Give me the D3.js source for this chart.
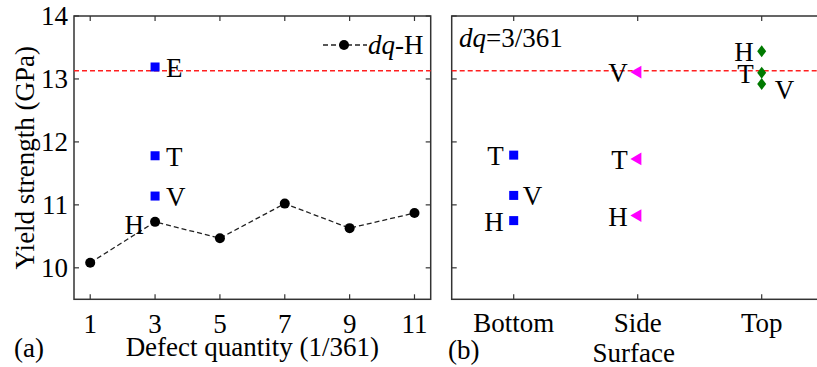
<!DOCTYPE html>
<html>
<head>
<meta charset="utf-8">
<script src="https://cdnjs.cloudflare.com/ajax/libs/d3/7.8.5/d3.min.js"></script>
<style>
  body { margin: 0; background: #fff; }
</style>
</head>
<body>
<div id="chart"></div>
<script>
// panel (a): yield strength vs defect quantity (hydrogen-like defects)
var dqTicks = [1, 3, 5, 7, 9, 11];
var dqH = [10.08, 10.73, 10.47, 11.02, 10.63, 10.87];
// other defect types at dq = 3
var otherTypes = ["E", "T", "V"];
var otherVals = [13.19, 11.78, 11.14];
var refLine = 13.13;
var yTicks = [10, 11, 12, 13, 14];

// panel (b): dq = 3/361, by surface position
var surfaces = ["Bottom", "Side", "Top"];
var bottomTypes = ["T", "V", "H"];
var bottomVals = [11.79, 11.15, 10.75];
var sideTypes = ["V", "T", "H"];
var sideVals = [13.11, 11.73, 10.83];
var topTypes = ["H", "T", "V"];
var topVals = [13.44, 13.10, 12.92];
var bottomSide = ["left", "right", "left"];
var sideSide = ["left", "left", "left"];
var topSide = ["left", "left", "below"];

var W = 817, H = 367;
var svg = d3.select("#chart").append("svg").attr("width", W).attr("height", H)
  .attr("font-family", "'Liberation Serif', Tinos, 'Times New Roman', 'DejaVu Serif', serif");

var y = d3.scaleLinear().domain([9.5, 14]).range([299.3, 16]);
var xa = d3.scaleLinear().domain([0.5, 11.5]).range([74, 430.7]);
var xb = d3.scaleLinear().domain([0.5, 3.5]).range([451.7, 823.7]);

var fs = 27, tickLen = 5, axisCol = "#333";

function box(x) {
  var r = x.range(), d = y.range();
  svg.append("rect")
    .attr("x", r[0]).attr("y", d[1])
    .attr("width", r[1] - r[0]).attr("height", d[0] - d[1])
    .attr("fill", "none").attr("stroke", axisCol).attr("stroke-width", 1.5);
}

// ---------- panel (a) ----------
box(xa);
var ga = svg.append("g");
yTicks.forEach(function(t) {
  ga.append("line").attr("x1", xa.range()[0]).attr("x2", xa.range()[0] + tickLen)
    .attr("y1", y(t)).attr("y2", y(t)).attr("stroke", axisCol).attr("stroke-width", 1.2);
  ga.append("line").attr("x1", xa.range()[1]).attr("x2", xa.range()[1] - tickLen)
    .attr("y1", y(t)).attr("y2", y(t)).attr("stroke", axisCol).attr("stroke-width", 1.2);
  ga.append("text").attr("x", xa.range()[0] - 6).attr("y", y(t) + 9)
    .attr("text-anchor", "end").attr("font-size", fs).text(t);
});
dqTicks.forEach(function(t) {
  ga.append("line").attr("x1", xa(t)).attr("x2", xa(t))
    .attr("y1", y.range()[0]).attr("y2", y.range()[0] - tickLen).attr("stroke", axisCol).attr("stroke-width", 1.2);
  ga.append("line").attr("x1", xa(t)).attr("x2", xa(t))
    .attr("y1", y.range()[1]).attr("y2", y.range()[1] + tickLen).attr("stroke", axisCol).attr("stroke-width", 1.2);
  ga.append("text").attr("x", xa(t)).attr("y", 333)
    .attr("text-anchor", "middle").attr("font-size", fs).text(t);
});

// reference line
ga.append("line").attr("x1", xa.range()[0]).attr("x2", xa.range()[1])
  .attr("y1", y(refLine)).attr("y2", y(refLine))
  .attr("stroke", "#ff2020").attr("stroke-width", 1.3).attr("stroke-dasharray", "5,3");

// dq-H line
var line = d3.line().x(function(d, i) { return xa(dqTicks[i]); }).y(function(d) { return y(d); });
ga.append("path").datum(dqH).attr("d", line)
  .attr("fill", "none").attr("stroke", "#222").attr("stroke-width", 1.3).attr("stroke-dasharray", "5,3");
ga.selectAll("circle.h").data(dqH).enter().append("circle")
  .attr("cx", function(d, i) { return xa(dqTicks[i]); })
  .attr("cy", function(d) { return y(d); })
  .attr("r", 5).attr("fill", "#000");
ga.append("text").attr("x", xa(3) - 11).attr("y", y(dqH[1]) + 12)
  .attr("text-anchor", "end").attr("font-size", fs).text("H");

// other types at dq=3
var sq = 9;
otherVals.forEach(function(v, i) {
  ga.append("rect").attr("x", xa(3) - sq / 2).attr("y", y(v) - sq / 2)
    .attr("width", sq).attr("height", sq).attr("fill", "#0000ff");
  ga.append("text").attr("x", xa(3) + 11).attr("y", y(v) + 10)
    .attr("font-size", fs).text(otherTypes[i]);
});

// legend
ga.append("line").attr("x1", 323).attr("x2", 367).attr("y1", 45).attr("y2", 45)
  .attr("stroke", "#222").attr("stroke-width", 1.3).attr("stroke-dasharray", "5,3");
ga.append("circle").attr("cx", 344).attr("cy", 45).attr("r", 5).attr("fill", "#000");
var lt = ga.append("text").attr("x", 368).attr("y", 54).attr("font-size", fs);
lt.append("tspan").attr("font-style", "italic").text("dq");
lt.append("tspan").text("-H");

// axis labels
ga.append("text").attr("transform", "translate(34," + y(11.75) + ") rotate(-90)")
  .attr("text-anchor", "middle").attr("font-size", fs).text("Yield strength (GPa)");
ga.append("text").attr("x", (xa.range()[0] + xa.range()[1]) / 2).attr("y", 356)
  .attr("text-anchor", "middle").attr("font-size", fs).text("Defect quantity (1/361)");
ga.append("text").attr("x", 14).attr("y", 357).attr("font-size", fs).text("(a)");

// ---------- panel (b) ----------
box(xb);
var gb = svg.append("g");
yTicks.forEach(function(t) {
  gb.append("line").attr("x1", xb.range()[0]).attr("x2", xb.range()[0] + tickLen)
    .attr("y1", y(t)).attr("y2", y(t)).attr("stroke", axisCol).attr("stroke-width", 1.2);
});
surfaces.forEach(function(s, i) {
  gb.append("line").attr("x1", xb(i + 1)).attr("x2", xb(i + 1))
    .attr("y1", y.range()[0]).attr("y2", y.range()[0] - tickLen).attr("stroke", axisCol).attr("stroke-width", 1.2);
  gb.append("line").attr("x1", xb(i + 1)).attr("x2", xb(i + 1))
    .attr("y1", y.range()[1]).attr("y2", y.range()[1] + tickLen).attr("stroke", axisCol).attr("stroke-width", 1.2);
  gb.append("text").attr("x", xb(i + 1)).attr("y", 332)
    .attr("text-anchor", "middle").attr("font-size", fs).text(s);
});
gb.append("text").attr("x", xb(2) - 4).attr("y", 362)
  .attr("text-anchor", "middle").attr("font-size", fs).text("Surface");
gb.append("text").attr("x", 448).attr("y", 359).attr("font-size", fs).text("(b)");

gb.append("line").attr("x1", xb.range()[0]).attr("x2", xb.range()[1])
  .attr("y1", y(refLine)).attr("y2", y(refLine))
  .attr("stroke", "#ff2020").attr("stroke-width", 1.3).attr("stroke-dasharray", "5,3");

var dqt = gb.append("text").attr("x", 459).attr("y", 47).attr("font-size", fs);
dqt.append("tspan").attr("font-style", "italic").text("dq");
dqt.append("tspan").text("=3/361");

function labels(vals, types, sides, xi, offL, offR) {
  vals.forEach(function(v, i) {
    var t = gb.append("text").attr("font-size", fs).text(types[i]);
    if (sides[i] === "left") {
      t.attr("x", xb(xi) - offL).attr("y", y(v) + 10).attr("text-anchor", "end");
    } else if (sides[i] === "right") {
      t.attr("x", xb(xi) + offR).attr("y", y(v) + 10);
    } else {
      t.attr("x", xb(xi) + 13).attr("y", y(v) + 15);
    }
  });
}

// bottom: blue squares
bottomVals.forEach(function(v) {
  gb.append("rect").attr("x", xb(1) - sq / 2).attr("y", y(v) - sq / 2)
    .attr("width", sq).attr("height", sq).attr("fill", "#0000ff");
});
labels(bottomVals, bottomTypes, bottomSide, 1, 10, 9);

// side: magenta left-pointing triangles
var tri = d3.symbol().type(d3.symbolTriangle).size(70);
sideVals.forEach(function(v) {
  gb.append("path").attr("d", tri())
    .attr("transform", "translate(" + xb(2) + "," + y(v) + ") rotate(-90)")
    .attr("fill", "#ff00ff");
});
labels(sideVals, sideTypes, sideSide, 2, 10, 9);

// top: green diamonds
topVals.forEach(function(v) {
  gb.append("path").attr("d", "M0,-6L4.5,0L0,6L-4.5,0Z")
    .attr("transform", "translate(" + xb(3) + "," + y(v) + ")")
    .attr("fill", "#007a00");
});
labels(topVals, topTypes, topSide, 3, 8, 9);
</script>
</body>
</html>
